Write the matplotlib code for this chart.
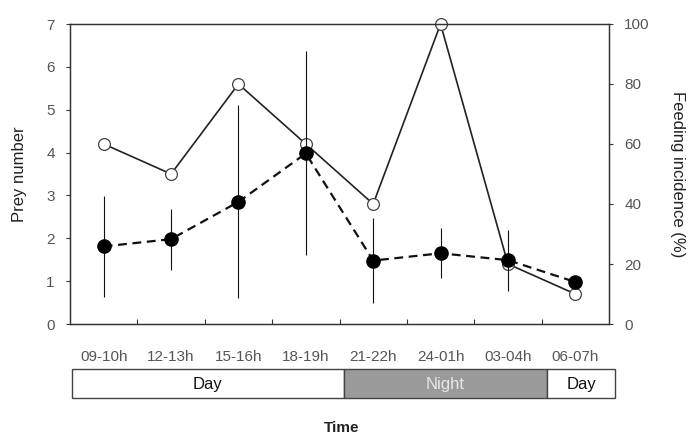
import numpy as np
import matplotlib as mpl
mpl.use("Agg")
import matplotlib.pyplot as plt
from matplotlib.patches import Rectangle

mpl.rcParams.update({
    "font.family": ["Liberation Sans", "DejaVu Sans"],
    "font.size": 11,
    "axes.linewidth": 0.9,
    "axes.edgecolor": "#333333",
})

# data
slots = ["09-10h", "12-13h", "15-16h", "18-19h", "21-22h", "24-01h", "03-04h", "06-07h"]
prey_mean = [1.81, 1.98, 2.85, 3.98, 1.48, 1.65, 1.49, 0.98]
prey_sd = [1.17, 0.71, 2.25, 2.38, 1.00, 0.58, 0.71, 0.0]
feeding = [60, 50, 80, 60, 40, 100, 20, 10]
periods = ["Day", "Night", "Day"]
period_slots = [4, 3, 1]
period_fill = ["white", "#9a9a9a", "white"]
period_text = ["#111111", "#e8e8e8", "#111111"]

W, H = 696, 436
fig = plt.figure(figsize=(W / 100, H / 100), dpi=100)

# main axes: x 70..609 px, y 24..324 px
ax = fig.add_axes([70 / W, (H - 324) / H, 539 / W, 300 / H])
ax2 = ax.twinx()

x = np.arange(len(slots))

ax2.plot(x, feeding, "-", color="#222222", lw=1.2, marker="o", ms=8.5,
         mfc="white", mec="#444444", mew=0.9, zorder=2, clip_on=False)
ax2.set_ylim(0, 100)
ax2.set_yticks(np.arange(0, 101, 20))

ax.set_zorder(ax2.get_zorder() + 1)
ax.patch.set_visible(False)
ax.errorbar(x, prey_mean, yerr=prey_sd, fmt="none", ecolor="#111111",
            elinewidth=0.8, capsize=0, zorder=3)
ax.plot(x, prey_mean, color="#111111", lw=1.6, ls=(0, (4, 2.5)),
        marker="o", ms=9.5, mfc="black", mec="black", zorder=4)
ax.set_xlim(-0.5, len(slots) - 0.5)
ax.set_ylim(0, 7)
ax.set_yticks(range(0, 8))

ax.set_xticks(x)
ax.set_xticklabels(slots)
ax.tick_params(axis="x", which="major", length=0, pad=19, labelcolor="#555555", labelsize=11)
ax.set_xticks(x[:-1] + 0.5, minor=True)
ax.tick_params(axis="x", which="minor", direction="in", length=3.5, width=0.8, color="#333333")
ax.tick_params(axis="y", direction="out", length=3, width=0.8, pad=8,
               labelcolor="#555555", labelsize=11, color="#333333")
ax2.tick_params(axis="y", direction="out", length=3, width=0.8, pad=8,
                labelcolor="#555555", labelsize=11, color="#333333")

ax.set_ylabel("Prey number", fontsize=12, color="#222222", labelpad=14)
ax2.set_ylabel("Feeding incidence (%)", fontsize=12, color="#222222",
               rotation=-90, labelpad=25)

# day / night bar
bax = fig.add_axes([72 / W, (H - 398) / H, 543 / W, 29 / H])
bax.set_xlim(0, sum(period_slots))
bax.set_ylim(0, 1)
bax.axis("off")
start = 0
for name, n, fc, tc in zip(periods, period_slots, period_fill, period_text):
    bax.add_patch(Rectangle((start, 0), n, 1, facecolor=fc, edgecolor="#444444",
                            lw=1.0, clip_on=False))
    bax.text(start + n / 2, 0.45, name, ha="center", va="center",
             fontsize=12, color=tc)
    start += n

fig.text(342 / W, (H - 421) / H, "Time", ha="center", va="top",
         fontsize=11, fontweight="bold", color="#222222")

fig.savefig("out.png", dpi=100)
